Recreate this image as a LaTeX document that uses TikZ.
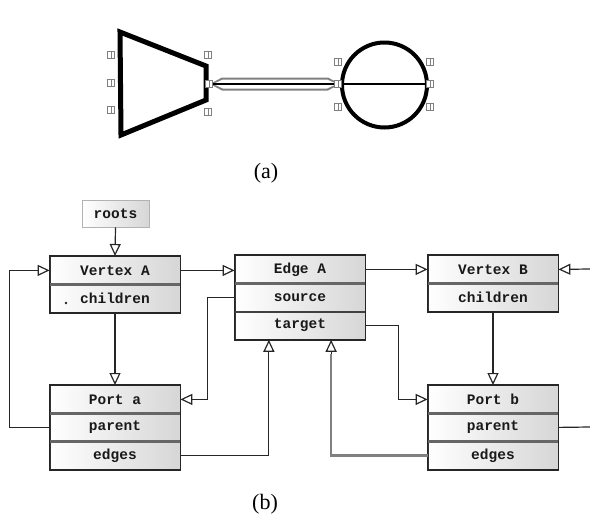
\documentclass[tikz,border=0pt]{standalone}
\usepackage{fontspec}
\setmainfont{Liberation Serif}
\newfontfamily\boxfont{Liberation Mono}
\usetikzlibrary{arrows.meta,calc}

\tikzset{
  cell/.style={draw=black!80, line width=0.8pt, minimum width=130pt, minimum height=28pt,
    inner sep=0pt, anchor=north, left color=white, right color=black!16,
    text=black!90, font=\boxfont\bfseries\fontsize{14.5}{15}\selectfont},
  frame/.style={draw=black!85, line width=1.6pt},
  bar/.style={draw=black!60, line width=3pt},
  thinbar/.style={draw=black!75, line width=1.6pt},
  link/.style={draw=black!85, line width=1.2pt,
    -{Triangle[open,length=12pt,width=11pt,line width=1.2pt]}},
  plain/.style={draw=black!85, line width=1.2pt},
  handle/.style={draw=black!50, line width=0.6pt, fill=white},
  caption/.style={font=\fontsize{22}{22}\selectfont, inner sep=0pt},
}

\begin{document}
\begin{tikzpicture}[x=1pt, y=-1pt]
\useasboundingbox (0,0) rectangle (590,520);

% ---------- (a) port view ----------
\draw[line width=5pt, line join=miter] (120,32) -- (206,66) -- (206,100) -- (121,135) -- cycle;
\draw[line width=4pt] (384.5,85) circle (42.5);
\draw[line width=2.5pt] (342,84) -- (427,84);
% double edge between the two shapes
\fill[black!50] (210,84) -- (222,77.5) -- (328,77.5) -- (340,84) -- (328,90.5) -- (222,90.5) -- cycle;
\fill[white] (213,84) -- (223,79.5) -- (327,79.5) -- (337,84) -- (327,88.5) -- (223,88.5) -- cycle;
\draw[line width=1.6pt] (212,84) -- (338,84);
% connection handles
\foreach \hx/\hy in {111/55, 111/83, 111/110, 208/55, 209/84, 208/112,
                     338/62, 338/84, 338/107, 430/62, 430/84, 430/107}{
  \draw[handle] (\hx-3.5,\hy-3.5) rectangle (\hx+3.5,\hy+3.5);
  \draw[black!50, line width=0.5pt] (\hx,\hy-3.5) -- (\hx,\hy+3.5);
}
\node[caption] (capa) at (266,173) {(a)};

% ---------- (b) object model ----------
\node[draw=black!30, line width=0.8pt, minimum width=67pt, minimum height=27pt, inner sep=0pt,
      left color=white, right color=black!16, text=black!90,
      font=\boxfont\bfseries\fontsize{14.5}{15}\selectfont] (roots) at (115.5,213.5) {roots};

% Vertex A
\node[cell] (va)  at (115,256) {Vertex A};
\node[cell] (vac) at (115,284) {children};
\draw[bar] (va.south west) -- (va.south east);
\draw[frame] (va.north west) rectangle (vac.south east);
\fill[black!85] (66,303) circle (1.4);

% Edge A
\node[cell] (ea)  at (300,255) {Edge A};
\node[cell] (eas) at (300,283) {source};
\node[cell] (eat) at (300,311) {target};
\draw[bar] (ea.south west) -- (ea.south east);
\draw[thinbar] (eas.south west) -- (eas.south east);
\draw[frame] (ea.north west) rectangle (eat.south east);
\coordinate (eab1) at ($(eat.south west)!0.262!(eat.south east)$);
\coordinate (eab2) at ($(eat.south west)!0.738!(eat.south east)$);

% Vertex B
\node[cell] (vb)  at (493,255) {Vertex B};
\node[cell] (vbc) at (493,283) {children};
\draw[bar] (vb.south west) -- (vb.south east);
\draw[frame] (vb.north west) rectangle (vbc.south east);

% Port a
\node[cell] (pa)  at (115,385) {Port a};
\node[cell] (pap) at (115,413) {parent};
\node[cell] (pae) at (115,441) {edges};
\draw[bar] (pa.south west) -- (pa.south east);
\draw[bar] (pap.south west) -- (pap.south east);
\draw[frame] (pa.north west) rectangle (pae.south east);

% Port b
\node[cell] (pb)  at (493,385) {Port b};
\node[cell] (pbp) at (493,413) {parent};
\node[cell] (pbe) at (493,441) {edges};
\draw[bar] (pb.south west) -- (pb.south east);
\draw[bar] (pbp.south west) -- (pbp.south east);
\draw[frame] (pb.north west) rectangle (pbe.south east);

% references
\coordinate (vbin) at (590,269);
\coordinate (pbout) at (590,427);
\draw[link] (roots.south) -- (va.north);
\draw[link] (va.east) -- (va.east -| ea.west);
\draw[link] (ea.east) -- (vb.west);
\draw[link] (vbin) -- (vb.east);
\draw[link] (vac.south) -- (pa.north);
\draw[link] (vbc.south) -- (pb.north);
\draw[link] (eas.west) -- ++(-27,0) |- (pa.east);
\draw[link] (eat.east) -- ++(33,0) |- (pb.west);
\draw[link] (pap.west) -- ++(-40,0) |- (va.west);
\draw[link] (pae.east) -| (eab1);
\draw[draw=black!50, line width=2.4pt] (pbe.west) -| ($(eab2)+(0,14)$);
\draw[link] ($(eab2)+(0,14)$) -- (eab2);
\draw[plain] (pbp.east) -- (pbout);

\node[caption] (capb) at (265,504) {(b)};
\end{tikzpicture}
\end{document}
